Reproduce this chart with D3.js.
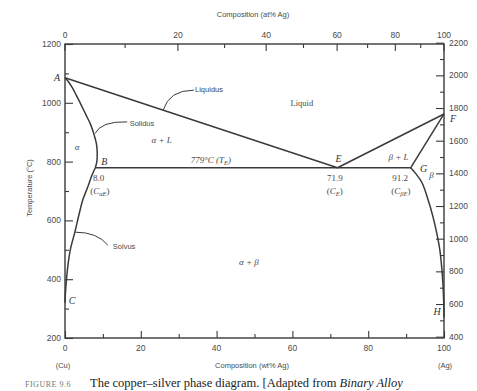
<!DOCTYPE html>
<html><head><meta charset="utf-8">
<script src="https://cdn.jsdelivr.net/npm/d3@7/dist/d3.min.js"></script>
<style>
html,body{margin:0;padding:0;background:#fff;}
svg{display:block;}
</style></head>
<body>
<svg id="c" width="477" height="391"></svg>
<script>
// ---- data (wt% Ag, °C) ----
const wtTicks = [0, 20, 40, 60, 80, 100];
const atTicks = [0, 20, 40, 60, 80, 100];
const cTicks = [200, 400, 600, 800, 1000, 1200];
const fTicks = [400, 600, 800, 1000, 1200, 1400, 1600, 1800, 2000, 2200];

const liquidusLeft  = [[0, 1085], [71.9, 779]];
const liquidusRight = [[71.9, 779], [100, 962]];
const solidusLeft   = [[0,1085],[1,1070],[2,1050],[3,1025],[4,1000],[5.5,960],[6.8,925],[7.7,890],[8.3,860],[8.5,830],[8.4,800],[8.0,779]];
const solvusLeft    = [[8.0,779],[7.0,750],[5.9,710],[4.7,670],[3.7,620],[2.6,560],[1.4,500],[0.8,450],[0.4,400],[0.1,350],[0,320]];
const solidusRight  = [[100, 962], [91.2, 779]];
const solvusRight   = [[91.2,779],[92.5,760],[94.2,728],[95.8,670],[97.1,612],[98.2,550],[98.9,500],[99.4,440],[99.7,388],[99.9,330],[100,270]];
const eutectic      = [[8.0, 779], [91.2, 779]];

const pointLabels = [
  {t:"A", x:0, y:1085, dx:-8, dy:3},
  {t:"B", x:8.0, y:779, dx:9, dy:-3},
  {t:"E", x:71.9, y:779, dx:1, dy:-6},
  {t:"G", x:91.2, y:779, dx:13, dy:4},
  {t:"F", x:100, y:962, dx:9, dy:8},
  {t:"C", x:0, y:330, dx:7, dy:4},
  {t:"H", x:100, y:270, dx:-7, dy:-2}
];
const regionLabels = [
  {t:"Liquid", x:62.5, y:1000},
  {t:"α + L", x:25.5, y:875},
  {t:"α", x:3.2, y:850},
  {t:"β + L", x:88, y:815},
  {t:"β", x:96.7, y:755},
  {t:"α + β", x:48.5, y:460}
];
const valueLabels = [
  {t:"8.0", sub:null, x:8.9, y:745},
  {t:"71.9", sub:null, x:71.2, y:745},
  {t:"91.2", sub:null, x:88.4, y:745}
];
const compLabels = [
  {main:"C", sub:"αE", x:9.2, y:700},
  {main:"C", sub:"E", x:71.2, y:700},
  {main:"C", sub:"βE", x:88.6, y:700}
];
const leaders = [
  {t:"Liquidus", lx:38, ly:1047, s:[34.0,1043], c:[27.5,1043], e:[25.9,975]},
  {t:"Solidus", lx:20.3, ly:931, s:[16.4,935], c:[9.5,938], e:[7.9,895]},
  {t:"Solvus", lx:15.6, ly:512, s:[11.3,516], c:[8.5,560], e:[2.7,560]}
];

// ---- scales ----
const L = 65, R = 444, T = 44, B = 338;
const x = d3.scaleLinear().domain([0, 100]).range([L, R]);
const yC = d3.scaleLinear().domain([200, 1200]).range([B, T]);
const yF = d3.scaleLinear().domain([392, 2192]).range([B, T]);
const atToWt = a => { const ag = a * 107.87, cu = (100 - a) * 63.55; return a >= 100 ? 100 : 100 * ag / (ag + cu); };

const svg = d3.select("#c");
const ink = "#3a3a3a", txt = "#4a4a4a";
const sans = "'Liberation Sans', Arial, sans-serif";
const serif = "'Liberation Serif', 'Times New Roman', serif";

// frame
svg.append("rect").attr("x", L).attr("y", T).attr("width", R - L).attr("height", B - T)
  .attr("fill", "none").attr("stroke", ink).attr("stroke-width", 1.4);

// bottom axis (wt%)
const gb = svg.append("g").attr("transform", `translate(0,${B})`)
  .call(d3.axisBottom(x).tickValues(d3.range(0, 101, 10)).tickSize(-7).tickPadding(0).tickFormat(""));
gb.selectAll(".tick line").attr("y2", (d) => d % 20 === 0 ? -7 : -4);
gb.select(".domain").remove();
svg.append("g").selectAll("text").data(wtTicks).join("text")
  .attr("x", d => x(d)).attr("y", B + 13).attr("text-anchor", "middle").text(d => d);

// top axis (at%)
const topT = d3.range(0, 101, 10);
svg.append("g").selectAll("line").data(topT).join("line")
  .attr("x1", d => x(atToWt(d))).attr("x2", d => x(atToWt(d)))
  .attr("y1", T).attr("y2", d => T + (d % 20 === 0 ? 7 : 4));
svg.append("g").selectAll("text").data(atTicks).join("text")
  .attr("x", d => x(atToWt(d))).attr("y", T - 6).attr("text-anchor", "middle").text(d => d);

// left axis (°C)
const gl = svg.append("g").attr("transform", `translate(${L},0)`)
  .call(d3.axisLeft(yC).tickValues(d3.range(200, 1201, 100)).tickSize(-8).tickFormat(""));
gl.selectAll(".tick line").attr("x2", d => d % 200 === 0 ? 8 : 4);
gl.select(".domain").remove();
svg.append("g").selectAll("text").data(cTicks).join("text")
  .attr("x", L - 4).attr("y", d => yC(d) + 3).attr("text-anchor", "end").text(d => d);

// right axis (°F)
const gr = svg.append("g").attr("transform", `translate(${R},0)`)
  .call(d3.axisRight(yF).tickValues(d3.range(400, 2201, 100)).tickSize(-8).tickFormat(""));
gr.selectAll(".tick line").attr("x2", d => d % 200 === 0 ? -8 : -4);
gr.select(".domain").remove();
svg.append("g").selectAll("text").data(fTicks).join("text")
  .attr("x", R + 5).attr("y", d => yF(d) + 3).attr("text-anchor", "start").text(d => d);

svg.selectAll(".tick line, line").attr("stroke", ink).attr("stroke-width", 1.1);
svg.selectAll("text").attr("font-family", sans).attr("font-size", 8.5).attr("fill", txt);

// axis titles
const tt = (s, px, py, extra) => svg.append("text").attr("x", px).attr("y", py)
  .attr("text-anchor", "middle").attr("font-family", sans).attr("font-size", 7.5).attr("fill", txt).text(s);
tt("Composition (at% Ag)", 253, 17);
tt("Composition (wt% Ag)", 252, 368);
tt("(Cu)", x(0) - 2, 368);
tt("(Ag)", x(100) + 1, 368);
tt("Temperature (°C)", 0, 0).attr("transform", `translate(32,188) rotate(-90)`);

// phase boundaries
const line = d3.line().x(d => x(d[0])).y(d => yC(d[1]));
const curve = d3.line().x(d => x(d[0])).y(d => yC(d[1])).curve(d3.curveCatmullRom.alpha(0.5));
const pg = svg.append("g").attr("fill", "none").attr("stroke", ink).attr("stroke-width", 1.5)
  .attr("stroke-linejoin", "round");
pg.append("path").attr("d", line(liquidusLeft));
pg.append("path").attr("d", line(liquidusRight));
pg.append("path").attr("d", curve(solidusLeft));
pg.append("path").attr("d", curve(solvusLeft));
pg.append("path").attr("d", line(solidusRight));
pg.append("path").attr("d", curve(solvusRight));
pg.append("path").attr("d", line(eutectic));

// leaders
leaders.forEach(l => {
  svg.append("path").attr("fill", "none").attr("stroke", ink).attr("stroke-width", 1)
    .attr("d", `M${x(l.s[0])},${yC(l.s[1])} Q${x(l.c[0])},${yC(l.c[1])} ${x(l.e[0])},${yC(l.e[1])}`);
  svg.append("text").attr("x", x(l.lx)).attr("y", yC(l.ly) + 3).attr("text-anchor", "middle")
    .attr("font-family", sans).attr("font-size", 7.5).attr("fill", txt).text(l.t);
});

// point labels
svg.append("g").selectAll("text").data(pointLabels).join("text")
  .attr("x", d => x(d.x) + d.dx).attr("y", d => yC(d.y) + d.dy).attr("text-anchor", "middle")
  .attr("font-family", serif).attr("font-style", "italic").attr("font-size", 10).attr("fill", "#333")
  .text(d => d.t);

// region labels
svg.append("g").selectAll("text").data(regionLabels).join("text")
  .attr("x", d => x(d.x)).attr("y", d => yC(d.y) + 3).attr("text-anchor", "middle")
  .attr("font-family", serif).attr("font-style", d => d.t === "Liquid" ? "normal" : "italic")
  .attr("font-size", d => d.t === "Liquid" ? 8.5 : 9).attr("fill", txt)
  .text(d => d.t);

// eutectic temperature label
const te = svg.append("text").attr("x", x(38.5)).attr("y", yC(779) - 5).attr("text-anchor", "middle")
  .attr("font-family", serif).attr("font-style", "italic").attr("font-size", 9).attr("fill", txt);
te.append("tspan").text("779°C (");
te.append("tspan").text("T");
te.append("tspan").attr("font-size", 6.5).attr("dy", 2).text("E");
te.append("tspan").attr("dy", -2).text(")");

// composition values
svg.append("g").selectAll("text").data(valueLabels).join("text")
  .attr("x", d => x(d.x)).attr("y", d => yC(d.y) + 3).attr("text-anchor", "middle")
  .attr("font-family", serif).attr("font-size", 9).attr("fill", txt).text(d => d.t);
compLabels.forEach(d => {
  const t = svg.append("text").attr("x", x(d.x)).attr("y", yC(d.y) + 3).attr("text-anchor", "middle")
    .attr("font-family", serif).attr("font-size", 9).attr("fill", txt);
  t.append("tspan").text("(");
  t.append("tspan").attr("font-style", "italic").text(d.main);
  t.append("tspan").attr("font-style", "italic").attr("font-size", 6.5).attr("dy", 2).text(d.sub);
  t.append("tspan").attr("dy", -2).text(")");
});

// caption
const cap = svg.append("text").attr("x", 25).attr("y", 387).attr("font-family", serif).attr("fill", "#222");
cap.append("tspan").attr("font-size", 8).attr("fill", "#777").attr("letter-spacing", 0.5).text("FIGURE 9.6");
cap.append("tspan").attr("x", 90).attr("font-size", 12.5).text("The copper–silver phase diagram. [Adapted from ");
cap.append("tspan").attr("font-size", 12.5).attr("font-style", "italic").text("Binary Alloy");
</script>
</body></html>
